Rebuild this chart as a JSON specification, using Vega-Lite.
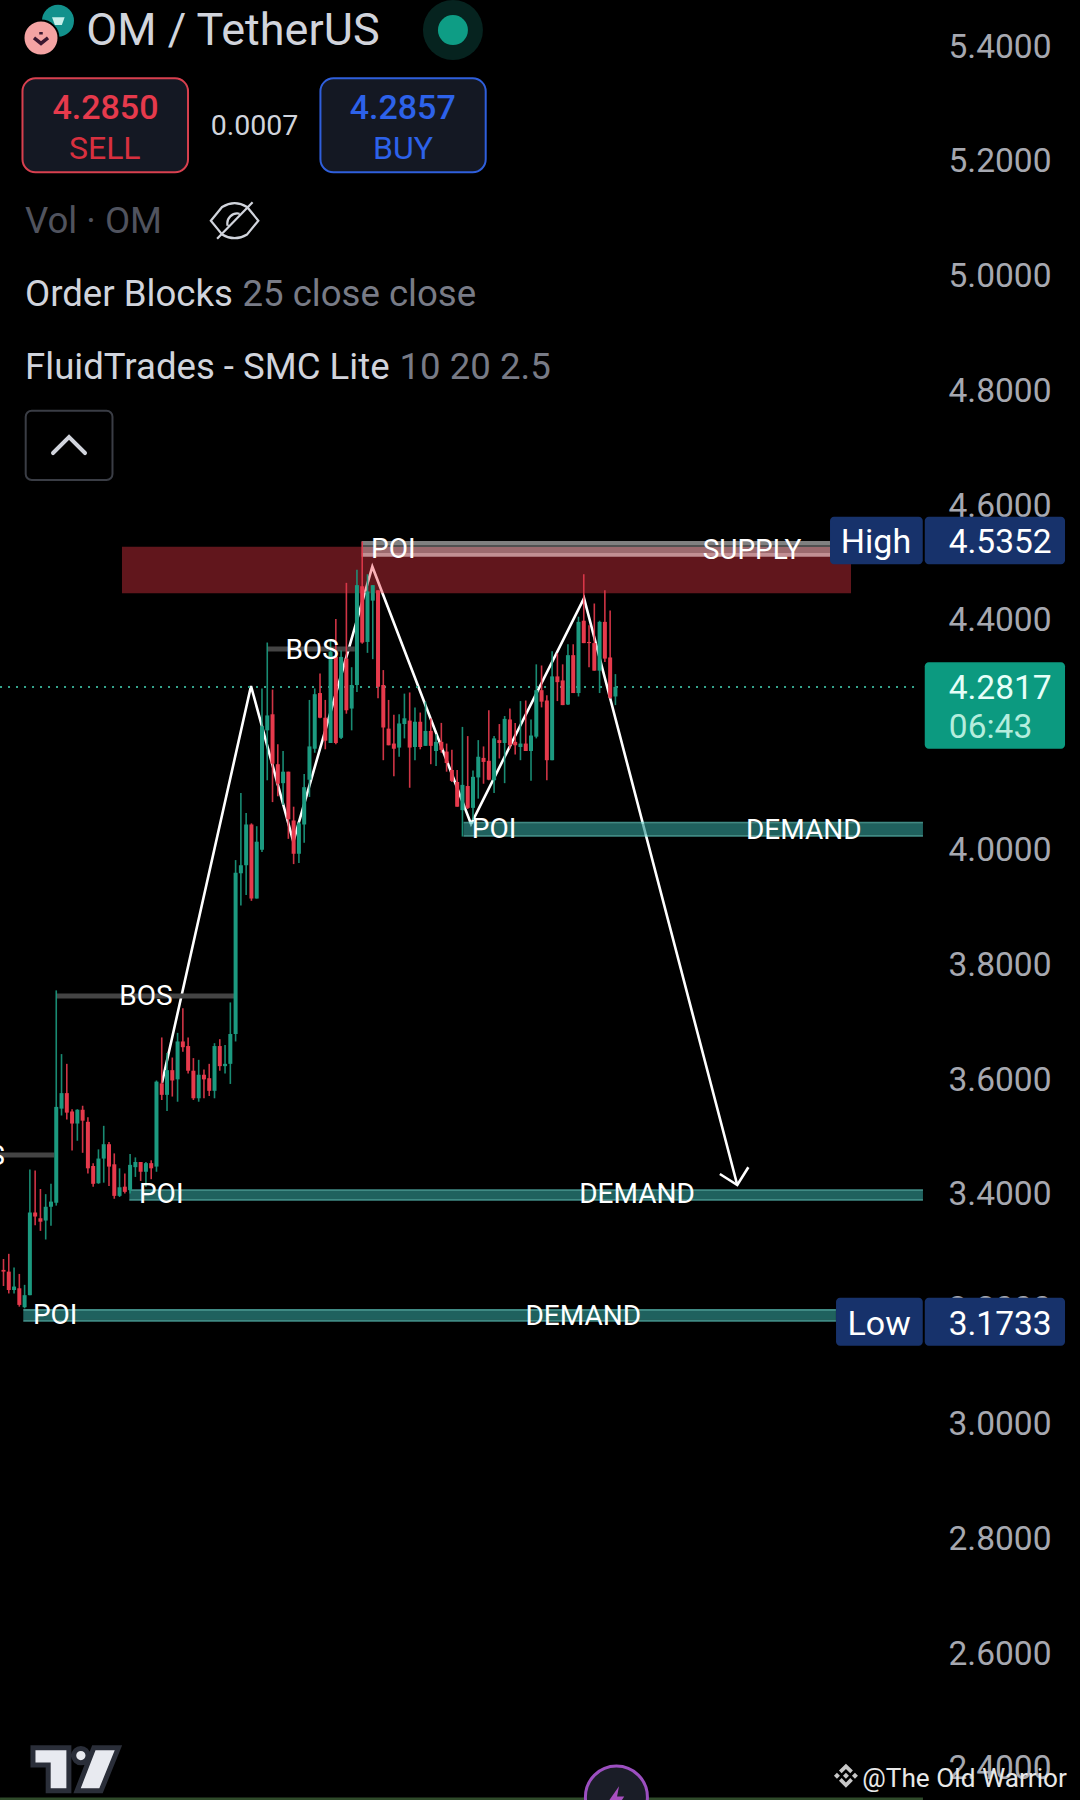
{
  "$schema": "https://vega.github.io/schema/vega-lite/v6.json",
  "width": 1080,
  "height": 1800,
  "padding": 0,
  "autosize": {"type": "none"},
  "background": "#000000",
  "config": {
    "view": {"stroke": null},
    "axisX": {"disable": true},
    "axisY": {"title": null, "domain": false, "ticks": false, "grid": false, "labelColor": "#a6a8b0", "labelFont": "Roboto", "labelFontSize": 33.5, "labelAlign": "right", "labelPadding": -29, "labelOffset": 2, "labelBound": false, "labelFlush": false, "labelOverlap": false},
    "text": {"font": "Roboto", "dy": 2}
  },
  "datasets": {
    "candles": [
      {"bar":0,"open":3.266,"high":3.285,"low":3.238,"close":3.263},
      {"bar":1,"open":3.263,"high":3.294,"low":3.225,"close":3.231},
      {"bar":2,"open":3.231,"high":3.27,"low":3.225,"close":3.237},
      {"bar":3,"open":3.234,"high":3.259,"low":3.202,"close":3.205},
      {"bar":4,"open":3.201,"high":3.24,"low":3.199,"close":3.222},
      {"bar":5,"open":3.222,"high":3.441,"low":3.222,"close":3.366},
      {"bar":6,"open":3.366,"high":3.439,"low":3.344,"close":3.359},
      {"bar":7,"open":3.356,"high":3.407,"low":3.334,"close":3.35},
      {"bar":8,"open":3.352,"high":3.398,"low":3.319,"close":3.376},
      {"bar":9,"open":3.376,"high":3.416,"low":3.343,"close":3.385},
      {"bar":10,"open":3.383,"high":3.753,"low":3.378,"close":3.55},
      {"bar":11,"open":3.547,"high":3.642,"low":3.535,"close":3.574},
      {"bar":12,"open":3.574,"high":3.625,"low":3.528,"close":3.54},
      {"bar":13,"open":3.542,"high":3.546,"low":3.474,"close":3.521},
      {"bar":14,"open":3.521,"high":3.546,"low":3.491,"close":3.545},
      {"bar":15,"open":3.545,"high":3.552,"low":3.47,"close":3.526},
      {"bar":16,"open":3.524,"high":3.532,"low":3.434,"close":3.443},
      {"bar":17,"open":3.447,"high":3.452,"low":3.411,"close":3.416},
      {"bar":18,"open":3.417,"high":3.476,"low":3.416,"close":3.46},
      {"bar":19,"open":3.46,"high":3.517,"low":3.418,"close":3.485},
      {"bar":20,"open":3.485,"high":3.489,"low":3.412,"close":3.446},
      {"bar":21,"open":3.45,"high":3.469,"low":3.39,"close":3.395},
      {"bar":22,"open":3.395,"high":3.443,"low":3.393,"close":3.41},
      {"bar":23,"open":3.411,"high":3.434,"low":3.399,"close":3.402},
      {"bar":24,"open":3.405,"high":3.468,"low":3.399,"close":3.449},
      {"bar":25,"open":3.445,"high":3.462,"low":3.428,"close":3.454},
      {"bar":26,"open":3.454,"high":3.454,"low":3.421,"close":3.437},
      {"bar":27,"open":3.437,"high":3.454,"low":3.411,"close":3.452},
      {"bar":28,"open":3.452,"high":3.457,"low":3.424,"close":3.443},
      {"bar":29,"open":3.446,"high":3.596,"low":3.437,"close":3.594},
      {"bar":30,"open":3.591,"high":3.671,"low":3.562,"close":3.571},
      {"bar":31,"open":3.571,"high":3.644,"low":3.543,"close":3.614},
      {"bar":32,"open":3.614,"high":3.636,"low":3.568,"close":3.596},
      {"bar":33,"open":3.598,"high":3.679,"low":3.559,"close":3.664},
      {"bar":34,"open":3.664,"high":3.722,"low":3.646,"close":3.654},
      {"bar":35,"open":3.656,"high":3.671,"low":3.608,"close":3.613},
      {"bar":36,"open":3.613,"high":3.635,"low":3.562,"close":3.565},
      {"bar":37,"open":3.565,"high":3.632,"low":3.559,"close":3.606},
      {"bar":38,"open":3.606,"high":3.615,"low":3.565,"close":3.598},
      {"bar":39,"open":3.6,"high":3.625,"low":3.569,"close":3.578},
      {"bar":40,"open":3.578,"high":3.661,"low":3.565,"close":3.656},
      {"bar":41,"open":3.656,"high":3.668,"low":3.613,"close":3.621},
      {"bar":42,"open":3.621,"high":3.658,"low":3.608,"close":3.625},
      {"bar":43,"open":3.625,"high":3.732,"low":3.59,"close":3.677},
      {"bar":44,"open":3.677,"high":3.98,"low":3.664,"close":3.958},
      {"bar":45,"open":3.957,"high":4.097,"low":3.901,"close":3.971},
      {"bar":46,"open":3.971,"high":4.062,"low":3.919,"close":4.042},
      {"bar":47,"open":4.042,"high":4.044,"low":3.909,"close":3.913},
      {"bar":48,"open":3.913,"high":4.039,"low":3.913,"close":4.012},
      {"bar":49,"open":3.998,"high":4.279,"low":3.994,"close":4.213},
      {"bar":50,"open":4.206,"high":4.359,"low":4.119,"close":4.232},
      {"bar":51,"open":4.234,"high":4.277,"low":4.081,"close":4.148},
      {"bar":52,"open":4.147,"high":4.182,"low":4.091,"close":4.113},
      {"bar":53,"open":4.114,"high":4.17,"low":4.076,"close":4.134},
      {"bar":54,"open":4.134,"high":4.134,"low":4.017,"close":4.051},
      {"bar":55,"open":4.049,"high":4.073,"low":3.973,"close":3.991},
      {"bar":56,"open":3.991,"high":4.046,"low":3.975,"close":4.044},
      {"bar":57,"open":4.042,"high":4.13,"low":4.01,"close":4.107},
      {"bar":58,"open":4.12,"high":4.259,"low":4.09,"close":4.178},
      {"bar":59,"open":4.174,"high":4.279,"low":4.167,"close":4.269},
      {"bar":60,"open":4.271,"high":4.305,"low":4.227,"close":4.228},
      {"bar":61,"open":4.228,"high":4.259,"low":4.173,"close":4.188},
      {"bar":62,"open":4.184,"high":4.365,"low":4.184,"close":4.343},
      {"bar":63,"open":4.334,"high":4.4,"low":4.182,"close":4.184},
      {"bar":64,"open":4.193,"high":4.345,"low":4.191,"close":4.334},
      {"bar":65,"open":4.331,"high":4.463,"low":4.235,"close":4.241},
      {"bar":66,"open":4.244,"high":4.316,"low":4.206,"close":4.285},
      {"bar":67,"open":4.285,"high":4.486,"low":4.273,"close":4.459},
      {"bar":68,"open":4.457,"high":4.535,"low":4.357,"close":4.359},
      {"bar":69,"open":4.36,"high":4.478,"low":4.341,"close":4.448},
      {"bar":70,"open":4.432,"high":4.459,"low":4.33,"close":4.459},
      {"bar":71,"open":4.45,"high":4.45,"low":4.262,"close":4.282},
      {"bar":72,"open":4.285,"high":4.311,"low":4.154,"close":4.211},
      {"bar":73,"open":4.209,"high":4.259,"low":4.18,"close":4.18},
      {"bar":74,"open":4.183,"high":4.233,"low":4.126,"close":4.174},
      {"bar":75,"open":4.176,"high":4.234,"low":4.16,"close":4.218},
      {"bar":76,"open":4.217,"high":4.27,"low":4.192,"close":4.227},
      {"bar":77,"open":4.223,"high":4.272,"low":4.106,"close":4.176},
      {"bar":78,"open":4.177,"high":4.246,"low":4.154,"close":4.221},
      {"bar":79,"open":4.221,"high":4.237,"low":4.173,"close":4.177},
      {"bar":80,"open":4.179,"high":4.256,"low":4.179,"close":4.205},
      {"bar":81,"open":4.205,"high":4.227,"low":4.147,"close":4.179},
      {"bar":82,"open":4.17,"high":4.199,"low":4.144,"close":4.186},
      {"bar":83,"open":4.186,"high":4.219,"low":4.167,"close":4.172},
      {"bar":84,"open":4.169,"high":4.183,"low":4.134,"close":4.149},
      {"bar":85,"open":4.137,"high":4.172,"low":4.116,"close":4.118},
      {"bar":86,"open":4.116,"high":4.137,"low":4.073,"close":4.073},
      {"bar":87,"open":4.067,"high":4.212,"low":4.021,"close":4.111},
      {"bar":88,"open":4.109,"high":4.196,"low":4.069,"close":4.071},
      {"bar":89,"open":4.071,"high":4.136,"low":4.05,"close":4.125},
      {"bar":90,"open":4.124,"high":4.189,"low":4.087,"close":4.16},
      {"bar":91,"open":4.158,"high":4.178,"low":4.113,"close":4.151},
      {"bar":92,"open":4.153,"high":4.241,"low":4.119,"close":4.12},
      {"bar":93,"open":4.119,"high":4.196,"low":4.097,"close":4.192},
      {"bar":94,"open":4.189,"high":4.217,"low":4.157,"close":4.184},
      {"bar":95,"open":4.184,"high":4.231,"low":4.114,"close":4.226},
      {"bar":96,"open":4.225,"high":4.244,"low":4.174,"close":4.18},
      {"bar":97,"open":4.186,"high":4.219,"low":4.164,"close":4.18},
      {"bar":98,"open":4.177,"high":4.257,"low":4.154,"close":4.183},
      {"bar":99,"open":4.183,"high":4.258,"low":4.17,"close":4.17},
      {"bar":100,"open":4.17,"high":4.225,"low":4.118,"close":4.197},
      {"bar":101,"open":4.195,"high":4.321,"low":4.192,"close":4.276},
      {"bar":102,"open":4.276,"high":4.319,"low":4.246,"close":4.256},
      {"bar":103,"open":4.258,"high":4.267,"low":4.119,"close":4.154},
      {"bar":104,"open":4.154,"high":4.344,"low":4.154,"close":4.3},
      {"bar":105,"open":4.3,"high":4.34,"low":4.257,"close":4.29},
      {"bar":106,"open":4.293,"high":4.321,"low":4.25,"close":4.25},
      {"bar":107,"open":4.251,"high":4.356,"low":4.25,"close":4.337},
      {"bar":108,"open":4.337,"high":4.356,"low":4.271,"close":4.271},
      {"bar":109,"open":4.271,"high":4.404,"low":4.265,"close":4.395},
      {"bar":110,"open":4.397,"high":4.478,"low":4.358,"close":4.358},
      {"bar":111,"open":4.36,"high":4.389,"low":4.316,"close":4.358},
      {"bar":112,"open":4.358,"high":4.427,"low":4.31,"close":4.31},
      {"bar":113,"open":4.31,"high":4.397,"low":4.271,"close":4.395},
      {"bar":114,"open":4.395,"high":4.45,"low":4.325,"close":4.331},
      {"bar":115,"open":4.333,"high":4.415,"low":4.261,"close":4.263},
      {"bar":116,"open":4.265,"high":4.304,"low":4.25,"close":4.2817}
    ],
    "swing": [
      {"leg":"move","bar":30.05,"price":3.5922},
      {"leg":"move","bar":46.92,"price":4.2833},
      {"leg":"move","bar":54.94,"price":4.012},
      {"leg":"move","bar":69.92,"price":4.4911},
      {"leg":"move","bar":88.63,"price":4.0429},
      {"leg":"move","bar":110.05,"price":4.4361},
      {"leg":"move","bar":139.1,"price":3.4139},
      {"leg":"head","bar":135.8,"price":3.4331},
      {"leg":"head","bar":139.1,"price":3.4139},
      {"leg":"head","bar":141.2,"price":3.4448}
    ],
    "labels": [
      {"label":"BOS","bar":-4.8,"price":3.466},
      {"label":"BOS","bar":27,"price":3.745},
      {"label":"BOS","bar":58.5,"price":4.348},
      {"label":"POI","bar":73.9,"price":4.524},
      {"label":"POI","bar":93,"price":4.036},
      {"label":"POI","bar":29.9,"price":3.4},
      {"label":"POI","bar":9.8,"price":3.189},
      {"label":"SUPPLY","bar":141.9,"price":4.522},
      {"label":"DEMAND","bar":151.7,"price":4.034},
      {"label":"DEMAND","bar":120.1,"price":3.4},
      {"label":"DEMAND","bar":109.9,"price":3.187}
    ]
  },
  "layer": [
    {
      "data": {"name": "swing"},
      "mark": {"type": "line", "color": "#ffffff", "strokeWidth": 2.6},
      "encoding": {
        "x": {"field": "bar", "type": "quantitative", "scale": {"domain": [-0.663, 204.07], "nice": false, "zero": false}},
        "y": {"field": "price", "type": "quantitative", "scale": {"domain": [2.3425, 5.4784], "nice": false, "zero": false},
          "axis": {"orient": "right", "values": [2.4,2.6,2.8,3,3.2,3.4,3.6,3.8,4,4.2,4.4,4.6,4.8,5,5.2,5.4], "format": ".4f"}},
        "detail": {"field": "leg"}
      }
    },
    {
      "data": {"values": [{"start":22.46,"end":160.66,"top":4.526,"bottom":4.4448}]},
      "mark": {"type": "rect", "color": "#f23645", "opacity": 0.4},
      "encoding": {
        "x": {"field": "start", "type": "quantitative"},
        "x2": {"field": "end"},
        "y": {"field": "top", "type": "quantitative"},
        "y2": {"field": "bottom"}
      }
    },
    {
      "data": {"values": [
        {"start":67.9,"end":156.7,"top":4.5359,"bottom":4.5289,"part":"grey"},
        {"start":67.9,"end":156.7,"top":4.5289,"bottom":4.5254,"part":"dark grey"},
        {"start":67.9,"end":156.7,"top":4.5254,"bottom":4.515,"part":"rose"},
        {"start":67.9,"end":156.7,"top":4.515,"bottom":4.5085,"part":"light rose"}
      ]},
      "mark": {"type": "rect"},
      "encoding": {
        "x": {"field": "start", "type": "quantitative"},
        "x2": {"field": "end"},
        "y": {"field": "top", "type": "quantitative"},
        "y2": {"field": "bottom"},
        "color": {"field": "part", "type": "nominal", "legend": null, "scale": {"domain": ["grey","dark grey","rose","light rose","edge","body"], "range": ["#808080","#505050","#9c6a6e","#c28f93","#61d4cb","#309591"]}}
      }
    },
    {
      "data": {"values": [
        {"start":87.2,"end":174.3,"top":4.0469,"bottom":4.0435,"part":"edge"},
        {"start":87.2,"end":174.3,"top":4.0435,"bottom":4.0241,"part":"body"},
        {"start":87.2,"end":174.3,"top":4.0241,"bottom":4.0207,"part":"edge"},
        {"start":23.85,"end":174.3,"top":3.4065,"bottom":3.4035,"part":"edge"},
        {"start":23.85,"end":174.3,"top":3.4035,"bottom":3.3896,"part":"body"},
        {"start":23.85,"end":174.3,"top":3.3896,"bottom":3.3866,"part":"edge"},
        {"start":3.75,"end":157.8,"top":3.1979,"bottom":3.1945,"part":"edge"},
        {"start":3.75,"end":157.8,"top":3.1945,"bottom":3.1792,"part":"body"},
        {"start":3.75,"end":157.8,"top":3.1792,"bottom":3.1758,"part":"edge"}
      ]},
      "mark": {"type": "rect", "opacity": 0.65},
      "encoding": {
        "x": {"field": "start", "type": "quantitative"},
        "x2": {"field": "end"},
        "y": {"field": "top", "type": "quantitative"},
        "y2": {"field": "bottom"},
        "color": {"field": "part", "type": "nominal", "legend": null, "scale": {"domain": ["grey","dark grey","rose","light rose","edge","body"], "range": ["#808080","#505050","#9c6a6e","#c28f93","#61d4cb","#309591"]}}
      }
    },
    {
      "data": {"values": [
        {"start":-0.66,"end":9.6,"price":3.4662},
        {"start":10,"end":43.8,"price":3.7432},
        {"start":50,"end":66.6,"price":4.3477}
      ]},
      "mark": {"type": "rule", "color": "#444444", "strokeWidth": 5},
      "encoding": {
        "x": {"field": "start", "type": "quantitative"},
        "x2": {"field": "end"},
        "y": {"field": "price", "type": "quantitative"}
      }
    },
    {
      "data": {"values": [{"start":-0.66,"end":173.7,"price":4.2817}]},
      "mark": {"type": "rule", "color": "#35a58d", "strokeWidth": 2, "strokeDash": [2, 6]},
      "encoding": {
        "x": {"field": "start", "type": "quantitative"},
        "x2": {"field": "end"},
        "y": {"field": "price", "type": "quantitative"}
      }
    },
    {
      "data": {"name": "candles"},
      "mark": {"type": "rule", "strokeWidth": 1.6, "opacity": 0.9},
      "encoding": {
        "x": {"field": "bar", "type": "quantitative"},
        "y": {"field": "high", "type": "quantitative"},
        "y2": {"field": "low"},
        "color": {"condition": {"test": "datum.close >= datum.open", "value": "#1c9a80"}, "value": "#e63a4c"}
      }
    },
    {
      "data": {"name": "candles"},
      "mark": {"type": "rule", "strokeWidth": 4},
      "encoding": {
        "x": {"field": "bar", "type": "quantitative"},
        "y": {"field": "open", "type": "quantitative"},
        "y2": {"field": "close"},
        "color": {"condition": {"test": "datum.close >= datum.open", "value": "#1c9a80"}, "value": "#e63a4c"}
      }
    },
    {
      "data": {"name": "labels"},
      "mark": {"type": "text", "color": "#ffffff", "fontSize": 28, "align": "center", "baseline": "middle"},
      "encoding": {
        "x": {"field": "bar", "type": "quantitative"},
        "y": {"field": "price", "type": "quantitative"},
        "text": {"field": "label"}
      }
    },
    {
      "data": {"values": [
        {"start":156.68,"end":174.26,"top":4.5782,"bottom":4.4953},
        {"start":174.64,"end":201.23,"top":4.5782,"bottom":4.4953},
        {"start":157.82,"end":174.26,"top":3.2176,"bottom":3.134},
        {"start":174.64,"end":201.23,"top":3.2176,"bottom":3.134}
      ]},
      "mark": {"type": "rect", "color": "#17326b", "cornerRadius": 4},
      "encoding": {
        "x": {"field": "start", "type": "quantitative"},
        "x2": {"field": "end"},
        "y": {"field": "top", "type": "quantitative"},
        "y2": {"field": "bottom"}
      }
    },
    {
      "data": {"values": [{"start":174.64,"end":201.23,"top":4.3246,"bottom":4.174}]},
      "mark": {"type": "rect", "color": "#0c9a80", "cornerRadius": 4},
      "encoding": {
        "x": {"field": "start", "type": "quantitative"},
        "x2": {"field": "end"},
        "y": {"field": "top", "type": "quantitative"},
        "y2": {"field": "bottom"}
      }
    },
    {
      "data": {"values": [
        {"label":"4.5352","bar":198.7,"price":4.5352},
        {"label":"3.1733","bar":198.7,"price":3.1733}
      ]},
      "mark": {"type": "text", "color": "#ffffff", "fontSize": 33.5, "align": "right", "baseline": "middle"},
      "encoding": {
        "x": {"field": "bar", "type": "quantitative"},
        "y": {"field": "price", "type": "quantitative"},
        "text": {"field": "label"}
      }
    },
    {
      "data": {"values": [
        {"label":"High","bar":165.4,"price":4.5352},
        {"label":"Low","bar":166,"price":3.1733}
      ]},
      "mark": {"type": "text", "color": "#ffffff", "fontSize": 34, "align": "center", "baseline": "middle"},
      "encoding": {
        "x": {"field": "bar", "type": "quantitative"},
        "y": {"field": "price", "type": "quantitative"},
        "text": {"field": "label"}
      }
    },
    {
      "data": {"values": [{"label":"4.2817","bar":198.7,"price":4.2817}]},
      "mark": {"type": "text", "color": "#e6fff8", "fontSize": 33.5, "align": "right", "baseline": "middle"},
      "encoding": {
        "x": {"field": "bar", "type": "quantitative"},
        "y": {"field": "price", "type": "quantitative"},
        "text": {"field": "label"}
      }
    },
    {
      "data": {"values": [{"label":"06:43"}]},
      "mark": {"type": "text", "color": "#b5eddd", "fontSize": 33.5, "align": "left", "baseline": "middle"},
      "encoding": {
        "x": {"datum": 179.2},
        "y": {"datum": 4.2141},
        "text": {"field": "label"}
      }
    },
    {
      "data": {"values": [{"label":"halo"}]},
      "mark": {"type": "point", "shape": "circle", "filled": true, "color": "#06231f", "size": 3600, "opacity": 1},
      "encoding": {"x": {"datum": 85.2}, "y": {"datum": 5.4261}}
    },
    {
      "data": {"values": [{"label":"dot"}]},
      "mark": {"type": "point", "shape": "circle", "filled": true, "color": "#0e9d85", "size": 900, "opacity": 1},
      "encoding": {"x": {"datum": 85.2}, "y": {"datum": 5.4261}}
    },
    {
      "data": {"values": [{"label":"coin"}]},
      "mark": {"type": "point", "shape": "circle", "filled": true, "color": "#12918c", "size": 1024, "opacity": 1},
      "encoding": {"x": {"datum": 10.33}, "y": {"datum": 5.4423}}
    },
    {
      "data": {"values": [{"label":"coin mark"}]},
      "mark": {"type": "point", "shape": "M-.9 -.5 L.9 -.5 L.5 .6 L-.5 .6Z", "filled": true, "color": "#c6efea", "size": 196, "opacity": 1},
      "encoding": {"x": {"datum": 10.4}, "y": {"datum": 5.4423}}
    },
    {
      "data": {"values": [{"label":"coin"}]},
      "mark": {"type": "point", "shape": "circle", "filled": true, "color": "#f4a3a3", "stroke": "#000000", "strokeWidth": 2, "size": 1225, "opacity": 1},
      "encoding": {"x": {"datum": 7.11}, "y": {"datum": 5.4122}}
    },
    {
      "data": {"values": [{"label":"coin mark"}]},
      "mark": {"type": "point", "shape": "M-.7 0 L0 .55 L.7 0 M0 -.6 L0 -.35", "filled": false, "color": "#3a1730", "strokeWidth": 3.5, "size": 400, "opacity": 1},
      "encoding": {"x": {"datum": 7.11}, "y": {"datum": 5.4122}}
    },
    {
      "data": {"values": [{"label":"OM / TetherUS"}]},
      "mark": {"type": "text", "color": "#d1d4dc", "fontSize": 45, "align": "left", "baseline": "middle"},
      "encoding": {"x": {"datum": 15.7}, "y": {"datum": 5.4279}, "text": {"field": "label"}}
    },
    {
      "data": {"values": [{"start":3.6,"end":34.98,"top":5.342,"bottom":5.1782}]},
      "mark": {"type": "rect", "fill": "#141823", "stroke": "#d8404f", "strokeWidth": 2, "cornerRadius": 13},
      "encoding": {
        "x": {"field": "start", "type": "quantitative"},
        "x2": {"field": "end"},
        "y": {"field": "top", "type": "quantitative"},
        "y2": {"field": "bottom"}
      }
    },
    {
      "data": {"values": [{"start":60.08,"end":91.41,"top":5.342,"bottom":5.1782}]},
      "mark": {"type": "rect", "fill": "#141823", "stroke": "#2f5fdc", "strokeWidth": 2, "cornerRadius": 13},
      "encoding": {
        "x": {"field": "start", "type": "quantitative"},
        "x2": {"field": "end"},
        "y": {"field": "top", "type": "quantitative"},
        "y2": {"field": "bottom"}
      }
    },
    {
      "data": {"values": [{"label":"4.2850"}]},
      "mark": {"type": "text", "color": "#e63a4c", "fontSize": 34, "fontWeight": 500, "align": "center", "baseline": "middle"},
      "encoding": {"x": {"datum": 19.32}, "y": {"datum": 5.2925}, "text": {"field": "label"}}
    },
    {
      "data": {"values": [{"label":"SELL"}]},
      "mark": {"type": "text", "color": "#d8303f", "fontSize": 32, "align": "center", "baseline": "middle"},
      "encoding": {"x": {"datum": 19.2}, "y": {"datum": 5.2228}, "text": {"field": "label"}}
    },
    {
      "data": {"values": [{"label":"0.0007"}]},
      "mark": {"type": "text", "color": "#d1d4dc", "fontSize": 28.5, "align": "center", "baseline": "middle"},
      "encoding": {"x": {"datum": 47.58}, "y": {"datum": 5.2624}, "text": {"field": "label"}}
    },
    {
      "data": {"values": [{"label":"4.2857"}]},
      "mark": {"type": "text", "color": "#2d62ea", "fontSize": 34, "fontWeight": 500, "align": "center", "baseline": "middle"},
      "encoding": {"x": {"datum": 75.68}, "y": {"datum": 5.2925}, "text": {"field": "label"}}
    },
    {
      "data": {"values": [{"label":"BUY"}]},
      "mark": {"type": "text", "color": "#2d62ea", "fontSize": 32, "align": "center", "baseline": "middle"},
      "encoding": {"x": {"datum": 75.73}, "y": {"datum": 5.2228}, "text": {"field": "label"}}
    },
    {
      "data": {"values": [{"label":"Vol · OM"}]},
      "mark": {"type": "text", "color": "#50535e", "fontSize": 36.6, "align": "left", "baseline": "middle"},
      "encoding": {"x": {"datum": 4.08}, "y": {"datum": 5.0951}, "text": {"field": "label"}}
    },
    {
      "data": {"values": [{"label":"eye"}]},
      "mark": {"type": "point", "shape": "M-.95 0 L-.5 -.55 Q0 -.85 .5 -.55 L.95 0 L.5 .55 Q0 .85 -.5 .55 Z M-.7 .72 L.72 -.74 M-.28 .2 A.4 .4 0 0 1 .2 -.28", "filled": false, "color": "#d1d4dc", "strokeWidth": 2.2, "size": 2500, "opacity": 1},
      "encoding": {"x": {"datum": 43.81}, "y": {"datum": 5.0939}}
    },
    {
      "data": {"values": [{"label":"Order Blocks"}]},
      "mark": {"type": "text", "color": "#d1d4dc", "fontSize": 36.6, "align": "left", "baseline": "middle"},
      "encoding": {"x": {"datum": 4.08}, "y": {"datum": 4.9674}, "text": {"field": "label"}}
    },
    {
      "data": {"values": [{"label":"25 close close"}]},
      "mark": {"type": "text", "color": "#787b86", "fontSize": 36.6, "align": "left", "baseline": "middle"},
      "encoding": {"x": {"datum": 45.3}, "y": {"datum": 4.9674}, "text": {"field": "label"}}
    },
    {
      "data": {"values": [{"label":"FluidTrades - SMC Lite"}]},
      "mark": {"type": "text", "color": "#d1d4dc", "fontSize": 36.6, "align": "left", "baseline": "middle"},
      "encoding": {"x": {"datum": 4.08}, "y": {"datum": 4.8413}, "text": {"field": "label"}}
    },
    {
      "data": {"values": [{"label":"10 20 2.5"}]},
      "mark": {"type": "text", "color": "#787b86", "fontSize": 36.6, "align": "left", "baseline": "middle"},
      "encoding": {"x": {"datum": 75.08}, "y": {"datum": 4.8413}, "text": {"field": "label"}}
    },
    {
      "data": {"values": [{"start":4.21,"end":20.66,"top":4.7629,"bottom":4.6422}]},
      "mark": {"type": "rect", "fill": "#000000", "stroke": "#3a3d45", "strokeWidth": 2, "cornerRadius": 6},
      "encoding": {
        "x": {"field": "start", "type": "quantitative"},
        "x2": {"field": "end"},
        "y": {"field": "top", "type": "quantitative"},
        "y2": {"field": "bottom"}
      }
    },
    {
      "data": {"values": [{"label":"chevron"}]},
      "mark": {"type": "point", "shape": "M-1 .5 L0 -.5 L1 .5", "filled": false, "color": "#d1d4dc", "strokeWidth": 4, "strokeCap": "round", "size": 1024, "opacity": 1},
      "encoding": {"x": {"datum": 12.42}, "y": {"datum": 4.7031}}
    },
    {
      "data": {"values": [{"label":"logo"}]},
      "mark": {"type": "point", "shape": "M-1 -.507 L-.145 -.507 L-.145 .517 L-.638 .517 L-.638 -.095 L-1 -.095 Z M-.03 -.32 A.17 .17 0 1 1 .31 -.32 A.17 .17 0 1 1 -.03 -.32 Z M.45 -.507 L1.035 -.507 L.62 .517 L.05 .517 Z", "filled": true, "fill": "#e8eaf0", "stroke": "#2a2e39", "strokeWidth": 5, "size": 7056, "opacity": 1},
      "encoding": {"x": {"datum": 13.55}, "y": {"datum": 2.3965}}
    },
    {
      "data": {"values": [{"start":-0.66,"end":174.3,"price":2.3442}]},
      "mark": {"type": "rule", "color": "#2f4a2a", "strokeWidth": 3},
      "encoding": {
        "x": {"field": "start", "type": "quantitative"},
        "x2": {"field": "end"},
        "y": {"field": "price", "type": "quantitative"}
      }
    },
    {
      "data": {"values": [{"label":"circle"}]},
      "mark": {"type": "point", "shape": "circle", "filled": true, "fill": "#1a1d27", "stroke": "#9c4fc0", "strokeWidth": 3, "size": 3844, "opacity": 1},
      "encoding": {"x": {"datum": 116.19}, "y": {"datum": 2.3477}}
    },
    {
      "data": {"values": [{"label":"bolt"}]},
      "mark": {"type": "point", "shape": "M.2 -1 L-.6 .15 L-.05 .15 L-.2 1 L.6 -.2 L.05 -.2 Z", "filled": true, "color": "#a84fc0", "size": 676, "opacity": 1},
      "encoding": {"x": {"datum": 116.19}, "y": {"datum": 2.344}}
    },
    {
      "data": {"values": [{"label":"binance"}]},
      "mark": {"type": "point", "shape": "M0 -1 L.58 -.42 L.36 -.2 L0 -.56 L-.36 -.2 L-.58 -.42 Z M0 1 L.58 .42 L.36 .2 L0 .56 L-.36 .2 L-.58 .42 Z M0 -.25 L.25 0 L0 .25 L-.25 0 Z M-1 0 L-.75 -.25 L-.5 0 L-.75 .25 Z M1 0 L.75 -.25 L.5 0 L.75 .25 Z", "filled": true, "color": "#c8c8c8", "size": 576, "opacity": 1},
      "encoding": {"x": {"datum": 159.7}, "y": {"datum": 2.3849}}
    },
    {
      "data": {"values": [{"label":"@The Old Warrior"}]},
      "mark": {"type": "text", "color": "#e8e8e8", "fontSize": 26.2, "align": "left", "baseline": "middle"},
      "encoding": {"x": {"datum": 162.8}, "y": {"datum": 2.3832}, "text": {"field": "label"}}
    }
  ]
}
